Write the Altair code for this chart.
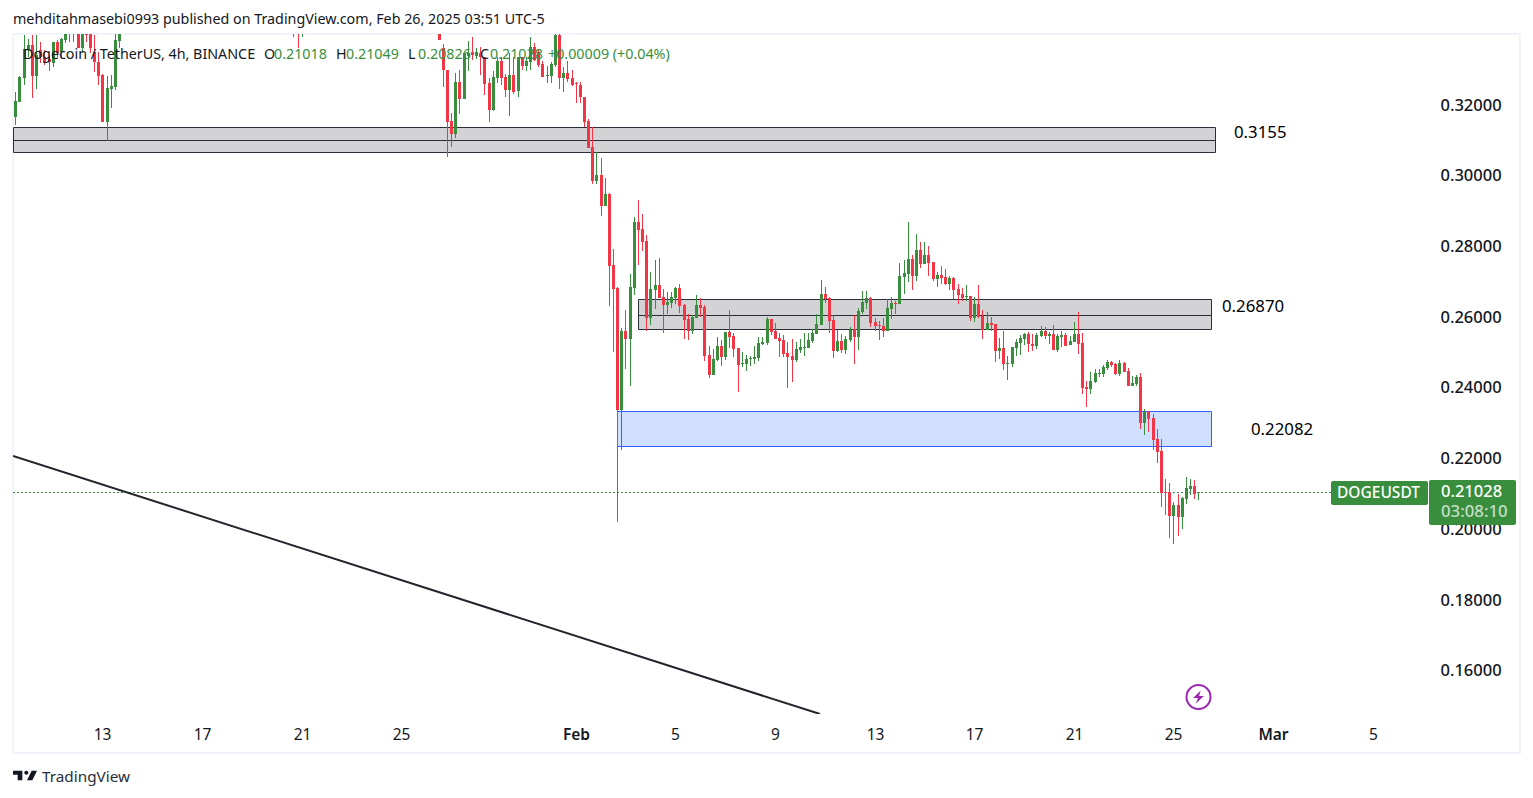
import altair as alt
import pandas as pd

# ---- candle data (prices x 10000) ----
first_bars = [0, 67, 102]

dir_a = "GGGGRGRRRGRGGRRRGRRRRRGGGG"
high_a = [3234,3280,3396,3384,3396,3396,3378,3354,3340,3378,3382,3387,3401,3411,3411,3401,3401,3411,3401,3396,3349,3286,3280,3283,3399,3406]
top_a = [3210,3277,3357,3368,3368,3340,3354,3333,3328,3378,3378,3384,3399,3411,3411,3399,3399,3409,3399,3349,3321,3283,3246,3252,3382,3399]
bot_a = [3165,3208,3274,3354,3280,3280,3333,3318,3320,3318,3345,3349,3382,3401,3403,3359,3359,3396,3359,3319,3280,3151,3151,3244,3250,3381]
low_a = [3142,3208,3255,3335,3219,3243,3316,3312,3295,3307,3335,3330,3375,3378,3378,3359,3346,3378,3346,3293,3255,3151,3097,3189,3241,3359]

dir_b = "RRG"
high_b = [3500,3480,3480]
top_b = [3480,3460,3460]
bot_b = [3440,3420,3420]
low_b = [3390,3359,3392]

dir_c = ("RRRRGRGGRG" "RRRGGRRGRG" "RGGRRRGGGR" "GRRRRRRRGR" "GRRRGRGGRR"
         "RGGRRGGGRR" "RGGRRRGGRG" "RRRGGGGGGG" "RRRRRRGGGG" "GGGRRRGRGG"
         "RGGGRRRRGG" "RGGGRGRGRR" "GRRGRRRGRG" "RRGRRGRGGG" "GGRRGGRGRG"
         "GRGGRRRGGG" "GGRRGRRGGR" "GRRRRRRGRG" "GGRG")
high_c = [
    3411,3371,3299,3177,3290,3299,3347,3381,3390,3359,
    3362,3333,3274,3295,3333,3333,3286,3345,3335,3335,
    3335,3335,3390,3373,3354,3324,3309,3321,3399,3399,
    3307,3324,3299,3263,3265,3222,3158,3135,3065,3048,
    2991,2949,2790,2685,2567,2619,2720,2881,2930,2890,
    2831,2726,2760,2765,2678,2669,2669,2684,2692,2637,
    2607,2604,2661,2652,2633,2517,2508,2542,2534,2556,
    2619,2553,2511,2500,2491,2488,2517,2542,2542,2599,
    2593,2582,2553,2548,2528,2536,2528,2536,2553,2553,
    2565,2607,2704,2684,2656,2605,2562,2551,2546,2571,
    2605,2625,2673,2673,2656,2596,2588,2596,2650,2656,
    2645,2752,2760,2868,2774,2834,2811,2811,2800,2755,
    2726,2743,2735,2715,2712,2692,2681,2689,2658,2656,
    2689,2619,2613,2599,2579,2540,2559,2489,2514,2537,
    2548,2554,2557,2551,2554,2573,2571,2557,2576,2551,
    2559,2554,2545,2585,2613,2554,2418,2443,2452,2452,
    2463,2477,2474,2469,2477,2472,2455,2432,2435,2440,
    2339,2333,2324,2282,2254,2141,2129,2076,2098,2090,
    2146,2141,2138,2104.9]
top_c = [
    3406,3359,3299,3153,3264,3264,3347,3347,3348,3349,
    3345,3333,3262,3278,3324,3324,3279,3283,3283,3333,
    3333,3324,3364,3364,3348,3314,3283,3314,3397,3397,
    3290,3290,3274,3260,3255,3220,3153,3080,3000,3000,
    2947,2947,2746,2682,2559,2559,2684,2867,2867,2848,
    2815,2678,2689,2689,2655,2641,2655,2681,2681,2633,
    2593,2599,2633,2633,2627,2491,2480,2517,2517,2556,
    2556,2545,2511,2469,2480,2483,2486,2525,2528,2593,
    2593,2559,2539,2534,2497,2488,2508,2514,2514,2534,
    2553,2579,2664,2664,2653,2591,2531,2531,2537,2562,
    2564,2616,2642,2653,2653,2585,2577,2574,2625,2639,
    2639,2715,2724,2763,2763,2788,2788,2774,2774,2755,
    2718,2718,2712,2709,2709,2678,2664,2658,2658,2636,
    2636,2602,2582,2582,2579,2511,2511,2469,2514,2528,
    2540,2551,2551,2522,2548,2559,2559,2551,2551,2545,
    2548,2548,2531,2551,2551,2525,2401,2418,2440,2440,
    2457,2472,2472,2466,2469,2469,2446,2412,2429,2429,
    2333,2333,2313,2254,2220,2104,2104,2067,2067,2087,
    2115,2121,2121,2102.8]
bot_c = [
    3382,3298,3151,3116,3116,3216,3216,3338,3340,3337,
    3333,3258,3184,3184,3276,3276,3241,3241,3236,3239,
    3309,3309,3321,3326,3312,3279,3281,3281,3312,3274,
    3274,3272,3255,3257,3220,3151,3077,2984,2984,2914,
    2914,2743,2678,2336,2336,2536,2536,2682,2845,2812,
    2596,2596,2675,2652,2633,2633,2638,2652,2630,2590,
    2559,2559,2596,2624,2488,2435,2435,2477,2486,2486,
    2542,2508,2463,2466,2466,2480,2480,2483,2522,2525,
    2556,2536,2531,2494,2486,2477,2477,2505,2511,2511,
    2531,2551,2576,2649,2588,2503,2503,2506,2506,2534,
    2543,2543,2613,2639,2582,2574,2574,2560,2560,2622,
    2636,2636,2712,2721,2715,2715,2749,2749,2752,2706,
    2706,2709,2692,2692,2675,2661,2653,2656,2596,2596,
    2599,2563,2563,2577,2503,2503,2466,2466,2466,2511,
    2525,2537,2522,2517,2517,2545,2545,2545,2506,2506,
    2542,2517,2520,2528,2522,2398,2395,2395,2415,2438,
    2438,2455,2463,2438,2438,2443,2404,2404,2409,2299,
    2299,2310,2251,2217,2102,2101,2036,2036,2033,2033,
    2084,2112,2098,2101.8]
low_c = [
    3382,3250,3052,3081,3105,3173,3216,3296,3326,3328,
    3283,3227,3151,3182,3260,3255,3222,3168,3230,3222,
    3298,3296,3298,3324,3305,3277,3260,3260,3307,3244,
    3236,3265,3253,3203,3203,3135,3076,2974,2975,2884,
    2913,2630,2501,2020,2223,2452,2403,2661,2746,2785,
    2559,2576,2621,2652,2553,2607,2624,2635,2610,2536,
    2534,2551,2596,2599,2474,2426,2435,2474,2460,2477,
    2511,2486,2387,2457,2446,2460,2466,2474,2520,2520,
    2548,2536,2486,2486,2398,2415,2471,2497,2488,2511,
    2525,2551,2576,2639,2554,2483,2500,2497,2495,2529,
    2466,2506,2608,2622,2571,2560,2534,2542,2560,2594,
    2608,2636,2664,2698,2675,2701,2737,2749,2715,2701,
    2684,2692,2689,2675,2650,2636,2644,2644,2588,2585,
    2596,2537,2563,2560,2472,2480,2449,2421,2457,2489,
    2491,2520,2500,2503,2508,2542,2537,2522,2506,2500,
    2514,2517,2520,2528,2494,2381,2344,2381,2412,2429,
    2429,2449,2457,2435,2432,2443,2404,2404,2404,2282,
    2265,2274,2223,2186,2061,2039,1974,1957,1979,1999,
    2070,2095,2084,2082.6]

# ---- axis ----
price_ticks = [0.16, 0.18, 0.20, 0.22, 0.24, 0.26, 0.28, 0.30, 0.32]
tick_bars = [21, 45, 69, 93, 135, 159, 183, 207, 231, 255, 279, 303, 327]
tick_labels = ["13", "17", "21", "25", "Feb", "5", "9", "13", "17", "21", "25", "Mar", "5"]

# ---- drawings ----
zone_names = ["upper", "middle", "blue"]
zone_start = [-0.56, 150, 145]
zone_end = [289.1, 288.1, 288.1]
zone_top = [0.31364, 0.2650, 0.2332]
zone_bottom = [0.3066, 0.25637, 0.2234]
zone_mid = [0.3100, 0.2606]
zone_labels = ["0.3155", "0.26870", "0.22082"]
zone_label_bar = [293.7, 290.8, 297.8]
zone_label_price = [0.3119, 0.2627, 0.2279]
trend_bar = [-0.56, 193.9]
trend_price = [0.2206, 0.1476]
last_price = 0.21028
last_line_end = 317

FONT = "Noto Sans"
DARK = "#131722"
GREEN = "#388e3c"
RED = "#f23645"

directions = dir_a + dir_b + dir_c
bars = (list(range(first_bars[0], first_bars[0] + len(high_a)))
        + list(range(first_bars[1], first_bars[1] + len(high_b)))
        + list(range(first_bars[2], first_bars[2] + len(high_c))))
candles = pd.DataFrame({
    "bar": bars,
    "high": [v / 10000 for v in high_a + high_b + high_c],
    "top": [v / 10000 for v in top_a + top_b + top_c],
    "bottom": [v / 10000 for v in bot_a + bot_b + bot_c],
    "low": [v / 10000 for v in low_a + low_b + low_c],
    "dir": list(directions),
})

xs = alt.Scale(domain=[-0.561, 340.34], nice=False, zero=False, round=True)
ys = alt.Scale(domain=[0.14763, 0.33994], nice=False, zero=False, round=True)
colour = alt.Color("dir:N", scale=alt.Scale(domain=["G", "R"], range=[GREEN, RED]), legend=None)

x_axis = alt.Axis(values=tick_bars, title=None, grid=False, domain=False, ticks=False,
                  labelExpr="[" + ",".join(f"'{t}'" for t in tick_labels) + "][indexof([" +
                            ",".join(str(b) for b in tick_bars) + "], datum.value)]",
                  labelFont=FONT, labelFontSize=15.5, labelColor=DARK, labelPadding=13,
                  labelOverlap=False, labelFlush=False,
                  labelFontWeight={"condition": {"test": "datum.value == 135 || datum.value == 303",
                                                 "value": 600}, "value": 400})
y_axis = alt.Axis(values=price_ticks, orient="right", format=".5f", title=None, grid=False,
                  domain=False, ticks=False, labelFont=FONT, labelFontSize=16.5, labelFontWeight=500,
                  labelColor=DARK, labelPadding=12, labelOverlap=False, labelFlush=False)


def X(field):
    return alt.X(field, scale=xs, axis=x_axis)


def Y(field):
    return alt.Y(field, scale=ys, axis=y_axis)


wicks = alt.Chart(candles).mark_rule(strokeWidth=1, clip=True, xOffset=0.5).encode(
    x=X("bar:Q"), y=Y("high:Q"), y2="low:Q", color=colour)
bodies = alt.Chart(candles).mark_rule(strokeWidth=3, clip=True, xOffset=0.5).encode(
    x=X("bar:Q"), y=Y("top:Q"), y2="bottom:Q", color=colour)

zones = pd.DataFrame({"name": zone_names, "start": zone_start, "end": zone_end,
                      "top": zone_top, "bottom": zone_bottom})
zone_layer = alt.Chart(zones).mark_rect(strokeWidth=1, clip=True, xOffset=0.5, x2Offset=0.5,
                                        yOffset=0.5, y2Offset=0.5).encode(
    x=X("start:Q"), x2="end:Q", y=Y("top:Q"), y2="bottom:Q",
    fill=alt.Fill("name:N", scale=alt.Scale(domain=zone_names, range=["#d3d3d6", "#d3d3d6", "#d1dfff"]), legend=None),
    stroke=alt.Stroke("name:N", scale=alt.Scale(domain=zone_names, range=["#2a2e39", "#2a2e39", "#2962ff"]), legend=None))
mids = pd.DataFrame({"start": zone_start[:2], "end": zone_end[:2], "mid": zone_mid})
mid_layer = alt.Chart(mids).mark_rule(strokeWidth=1, color="#2a2e39", clip=True, yOffset=0.5).encode(
    x=X("start:Q"), x2="end:Q", y=Y("mid:Q"))
zone_text = pd.DataFrame({"t": zone_labels, "bar": zone_label_bar, "price": zone_label_price})
zone_text_layer = alt.Chart(zone_text).mark_text(font=FONT, fontSize=16.8, color="#000000", align="left").encode(
    x=X("bar:Q"), y=Y("price:Q"), text="t:N")

trend = pd.DataFrame({"bar": trend_bar, "price": trend_price})
trend_layer = alt.Chart(trend).mark_line(color="#22242c", strokeWidth=2, clip=True).encode(
    x=X("bar:Q"), y=Y("price:Q"))

last = pd.DataFrame({"start": [trend_bar[0]], "end": [last_line_end], "p": [last_price]})
last_layer = alt.Chart(last).mark_rule(strokeWidth=1, strokeDash=[2, 2], color=GREEN, yOffset=0.5).encode(
    x=X("start:Q"), x2="end:Q", y=Y("p:Q"))

one = pd.DataFrame({"a": [0]})


def box(x0, x1, y0, y1, **kw):
    return alt.Chart(one).mark_rect(**kw).encode(
        x=alt.value(x0), x2=alt.value(x1), y=alt.value(y0), y2=alt.value(y1))


def label(text, x, y, size=14.3, color=DARK, align="left", weight=400, opacity=1.0):
    return alt.Chart(pd.DataFrame({"t": [text]})).mark_text(
        font=FONT, fontSize=size, color=color, align=align, baseline="middle",
        fontWeight=weight, opacity=opacity).encode(
        x=alt.value(x), y=alt.value(y), text="t:N")


def glyph(shape, x, y, size, **kw):
    return alt.Chart(one).mark_point(shape=shape, size=size, **kw).encode(
        x=alt.value(x), y=alt.value(y))


frame = box(0, 1507, 0, 719, fillOpacity=0, stroke="#f0f3fa", strokeWidth=2)

logo_path = ("M-0.222 -0.389 H-1 V-0.056 H-0.611 V0.389 H-0.222 Z "
             "M-0.056 -0.222 a0.167 0.167 0 1 0 0.334 0 a0.167 0.167 0 1 0 -0.334 0 Z "
             "M0.556 -0.389 H1 L0.611 0.389 H0.167 Z")
bolt_path = "M0.2 -0.6 L-0.5 0.1 H-0.05 L-0.25 0.6 L0.5 -0.1 H0.05 Z"

chrome = [
    label("mehditahmasebi0993 published on TradingView.com, Feb 26, 2025 03:51 UTC-5", 0, -14.5),
    label("Dogecoin / TetherUS, 4h, BINANCE", 10, 21),
    label("O", 251, 21), label("0.21018", 261, 21, color=GREEN),
    label("H", 323, 21), label("0.21049", 333, 21, color=GREEN),
    label("L", 395, 21), label("0.20826", 405, 21, color=GREEN),
    label("C", 467, 21), label("0.21028", 477, 21, color=GREEN),
    label("+0.00009 (+0.04%)", 535, 21, color=GREEN),
    box(1318, 1415, 447, 471, fill=GREEN, cornerRadius=2),
    box(1416, 1503, 446, 491, fill=GREEN, cornerRadius=2),
    label("DOGEUSDT", 1365.5, 459, size=15.5, color="#ffffff", align="center", weight=500),
    label("0.21028", 1428, 458, size=16.5, color="#ffffff", weight=500),
    label("03:08:10", 1428, 478, size=16.8, color="#ffffff", weight=500, opacity=0.7),
    glyph("circle", 1185.5, 663, 576, filled=False, color="#9c27b0", strokeWidth=2, opacity=1),
    glyph(bolt_path, 1185.5, 663, 466, filled=True, color="#9c27b0", opacity=1),
    glyph(logo_path, 12, 741.5, 576, filled=True, color=DARK, opacity=1),
    label("TradingView", 29, 742.5, size=15.3, color="#2a2e39"),
]

chart = alt.layer(
    frame, zone_layer, mid_layer, last_layer, trend_layer, wicks, bodies, zone_text_layer, *chrome
).properties(
    width=1415, height=680,
    autosize=alt.AutoSizeParams(type="none"),
    padding={"left": 5, "top": 26, "right": 97, "bottom": 74},
    background="#ffffff",
).configure_view(stroke=None)

chart.save("out.html", embed_options={"renderer": "svg", "actions": False})
